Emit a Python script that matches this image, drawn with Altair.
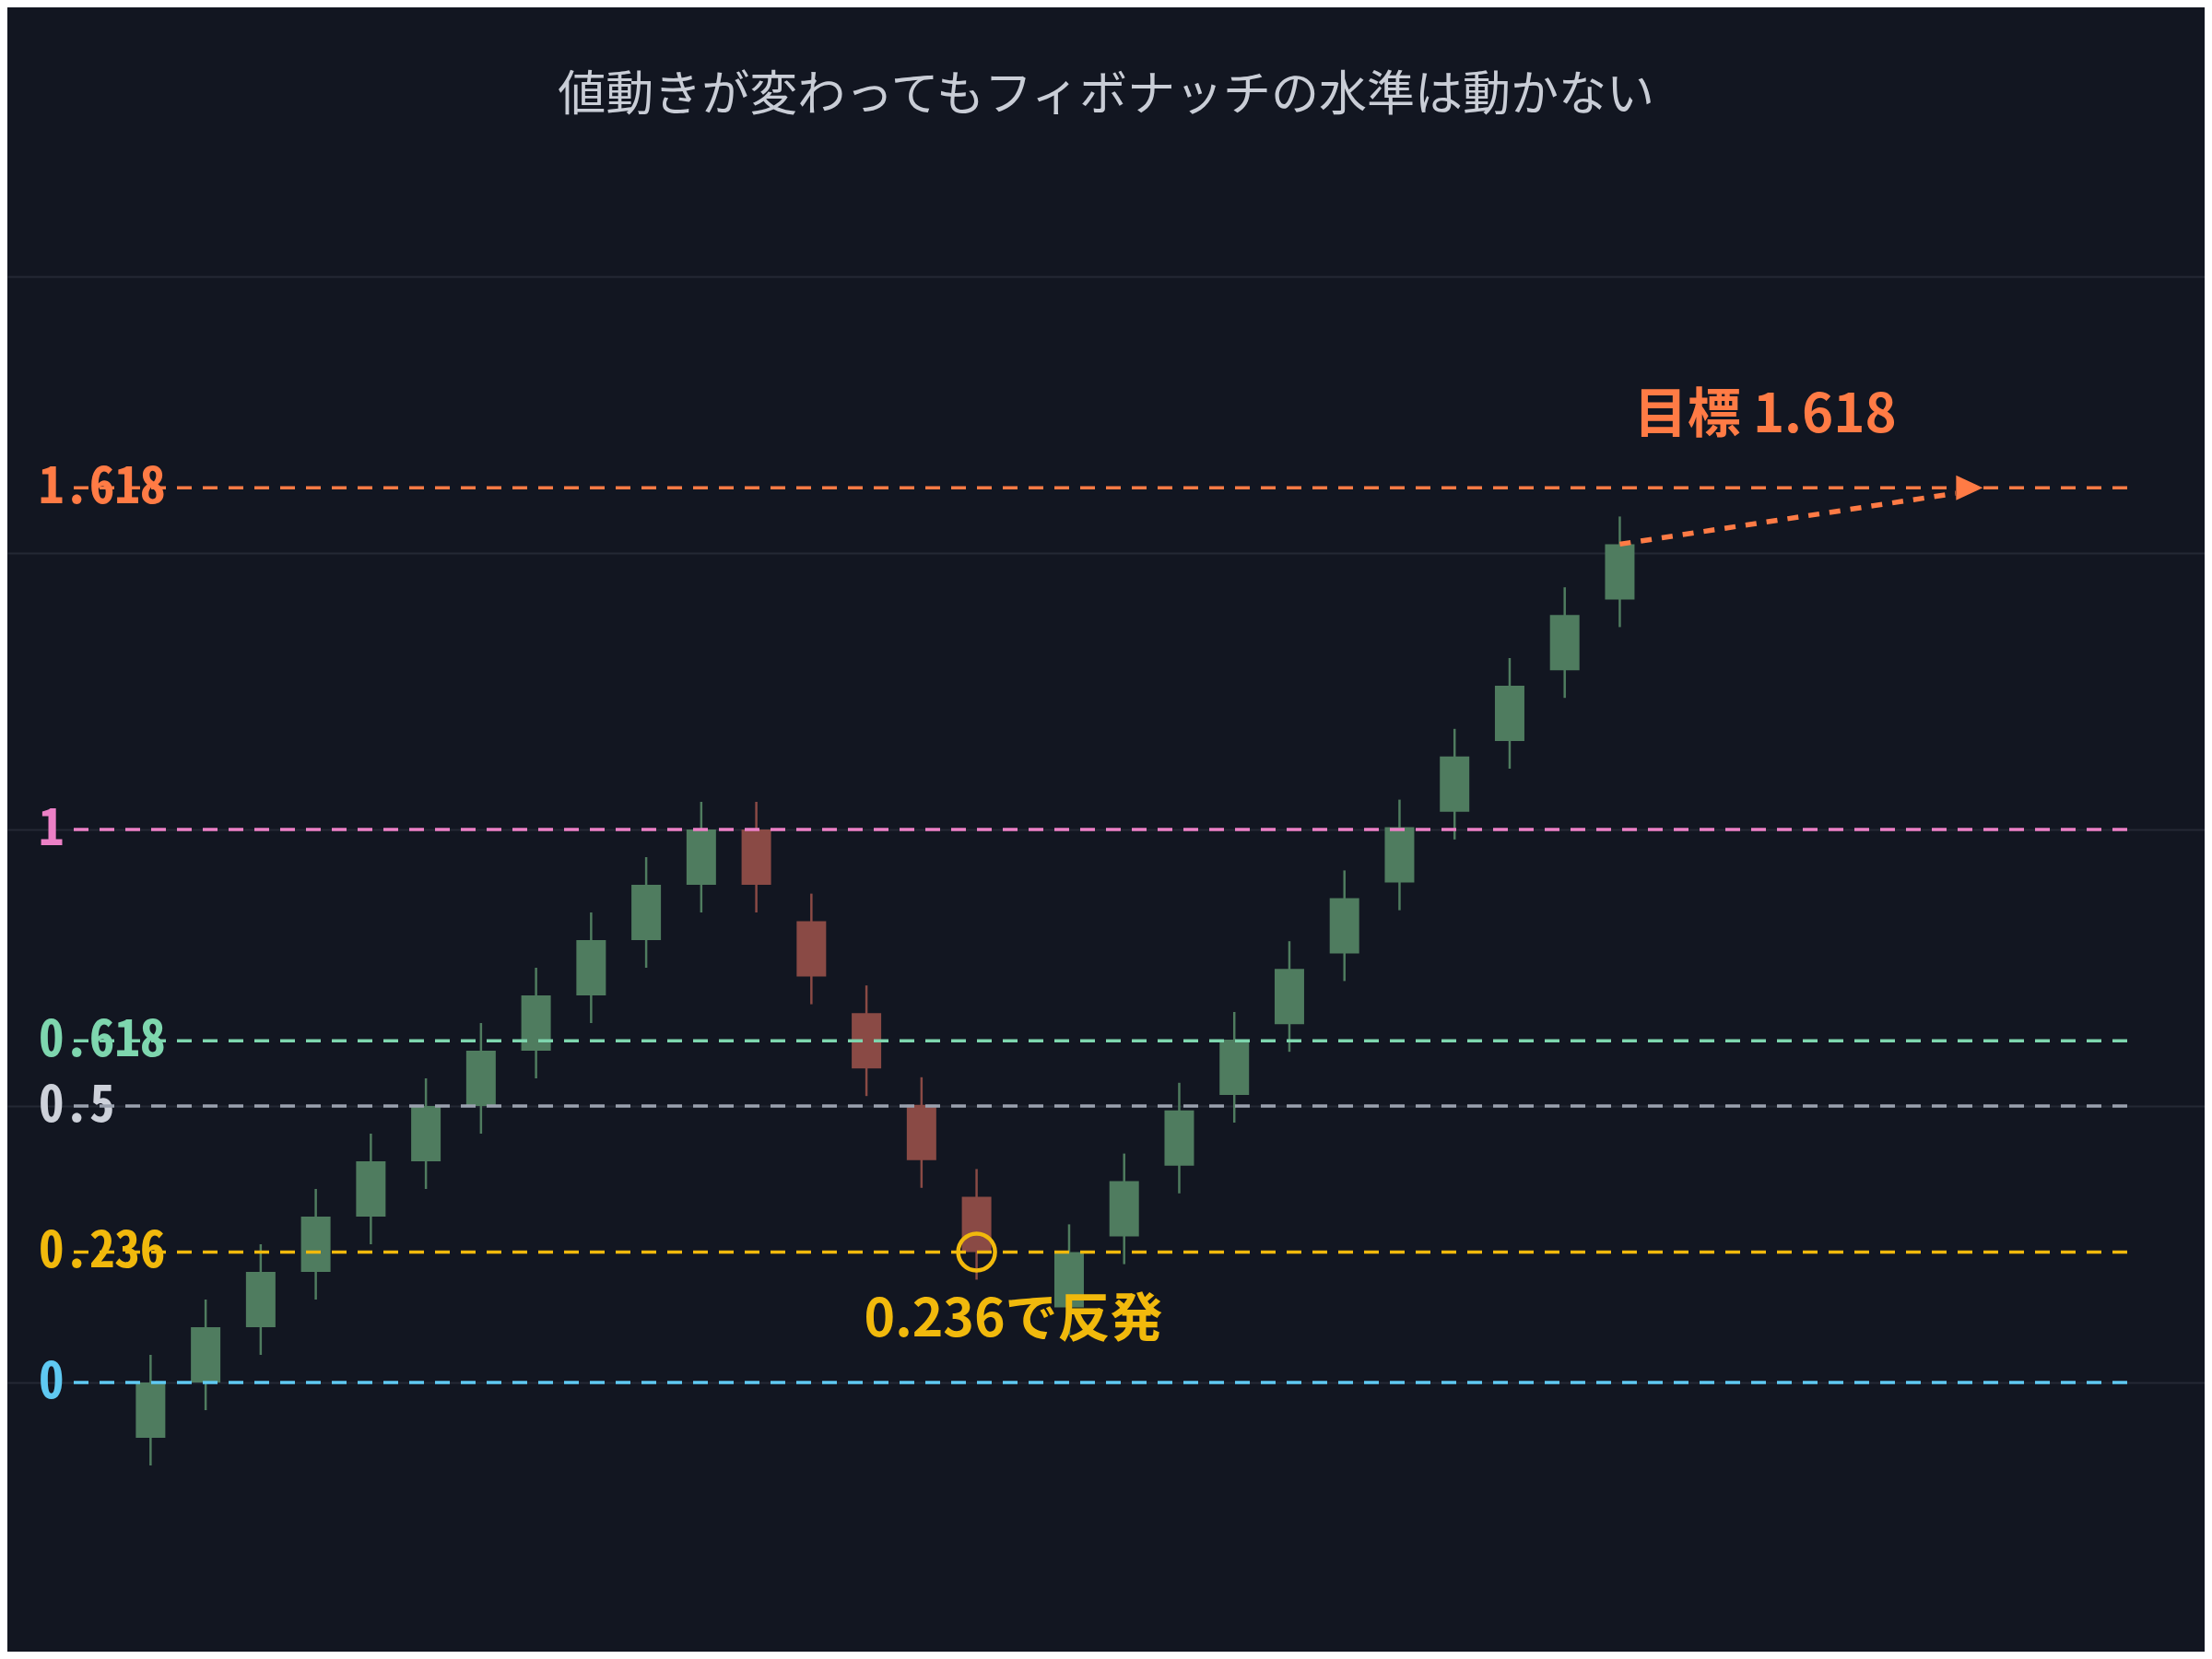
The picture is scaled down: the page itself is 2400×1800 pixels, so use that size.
import altair as alt
import pandas as pd

# ---------------- data ----------------
TITLE = "値動きが変わってもフィボナッチの水準は動かない"

CANDLE_X = [0, 1, 2, 3, 4, 5, 6, 7, 8, 9, 10, 11, 12, 13, 14, 15,
            16.68, 17.68, 18.68, 19.68, 20.68, 21.68, 22.68, 23.68, 24.68, 25.68, 26.68]
OPEN = [-0.10, 0.00, 0.10, 0.20, 0.30, 0.40, 0.50, 0.60, 0.70, 0.80, 0.90, 1.00,
        0.834, 0.668, 0.502, 0.336, 0.136, 0.264, 0.392, 0.520, 0.648, 0.776,
        0.904, 1.032, 1.160, 1.288, 1.416]
CLOSE = [0.00, 0.10, 0.20, 0.30, 0.40, 0.50, 0.60, 0.70, 0.80, 0.90, 1.00, 0.90,
         0.734, 0.568, 0.402, 0.236, 0.236, 0.364, 0.492, 0.620, 0.748, 0.876,
         1.004, 1.132, 1.260, 1.388, 1.516]
HIGH = [0.05, 0.15, 0.25, 0.35, 0.45, 0.55, 0.65, 0.75, 0.85, 0.95, 1.05, 1.05,
        0.884, 0.718, 0.552, 0.386, 0.286, 0.414, 0.542, 0.670, 0.798, 0.926,
        1.054, 1.182, 1.310, 1.438, 1.566]
LOW = [-0.15, -0.05, 0.05, 0.15, 0.25, 0.35, 0.45, 0.55, 0.65, 0.75, 0.85, 0.85,
       0.684, 0.518, 0.352, 0.186, 0.086, 0.214, 0.342, 0.470, 0.598, 0.726,
       0.854, 0.982, 1.110, 1.238, 1.366]

LEVELS = [1.618, 1.0, 0.618, 0.5, 0.236, 0.0]
LEVEL_LABELS = ["1.618", "1", "0.618", "0.5", "0.236", "0"]
LEVEL_TEXT_COLORS = ["#FF7B45", "#EC80C6", "#7ED6AE", "#CDD1DA", "#F1B90C", "#5FC9F2"]
LEVEL_LINE_COLORS = ["#FF7B45", "#EC80C6", "#7ED6AE", "#9AA1AE", "#F1B90C", "#5FC9F2"]

BOUNCE_X = [15]
BOUNCE_Y = [0.236]
BOUNCE_TEXT = ["0.236で反発"]

ARROW_X = [26.68, 32.78]
ARROW_Y = [1.516, 1.608]
HEAD_X = [33.03]
HEAD_Y = [1.618]
TARGET_TEXT = ["目標 1.618"]
TARGET_X = [29.32]
TARGET_Y = [1.746]

# ---------------- style ----------------
BG = "#121621"
GRID = "#242935"
UP = "#4F7C5F"
DOWN = "#8A4A45"
W, H = 2384, 1784
XDOM = [-2.5167, 37.2167]
YDOM = [-0.48667, 2.48667]
JP = "Noto Sans CJK JP"

xs = alt.Scale(domain=XDOM, nice=False, zero=False)
ys = alt.Scale(domain=YDOM, nice=False, zero=False)
yaxis = alt.Axis(grid=True, values=[0, 0.5, 1, 1.5, 2], labels=False, ticks=False,
                 domain=False, title=None, gridColor=GRID, gridWidth=2)


def X(f):
    return alt.X(f, type="quantitative", scale=xs, axis=None)


def Y(f):
    return alt.Y(f, type="quantitative", scale=ys, axis=yaxis)


candles = pd.DataFrame({"x": CANDLE_X, "open": OPEN, "close": CLOSE,
                        "high": HIGH, "low": LOW})
candles["dir"] = ["up" if c >= o else "down" for o, c in zip(OPEN, CLOSE)]
dir_color = alt.Color("dir:N", scale=alt.Scale(domain=["up", "down"], range=[UP, DOWN]),
                      legend=None)

wicks = alt.Chart(candles).mark_rule(strokeWidth=2.5).encode(
    x=X("x"), y=Y("low"), y2="high", color=dir_color)
bodies = alt.Chart(candles).mark_bar(size=32).encode(
    x=X("x"), y=Y("open"), y2="close", color=dir_color)
candle_layer = alt.layer(wicks, bodies)

levels = pd.DataFrame({"level": LEVELS, "label": LEVEL_LABELS})
level_labels = alt.Chart(levels).mark_text(
    align="left", baseline="middle", font="Noto Sans Mono CJK JP, DejaVu Sans Mono",
    fontSize=55, fontWeight="bold").encode(
    x=alt.value(34), y=Y("level"), text="label:N",
    color=alt.Color("label:N", scale=alt.Scale(domain=LEVEL_LABELS, range=LEVEL_TEXT_COLORS),
                    legend=None))
level_lines = alt.Chart(levels).mark_rule(strokeWidth=3.5, strokeDash=[16, 12]).encode(
    x=alt.value(72), x2=alt.value(2300), y=Y("level"),
    color=alt.Color("label:N", scale=alt.Scale(domain=LEVEL_LABELS, range=LEVEL_LINE_COLORS),
                    legend=None))

bounce = pd.DataFrame({"x": BOUNCE_X, "y": BOUNCE_Y, "t": BOUNCE_TEXT})
ring = alt.Chart(bounce).mark_point(shape="circle", size=1600, strokeWidth=4.5,
                                    color="#F1B90C", filled=False, opacity=1).encode(
    x=X("x"), y=Y("y"))
bounce_text = alt.Chart(bounce).mark_text(
    font=JP, fontSize=57, fontWeight="bold", color="#F1B90C", align="center",
    baseline="middle", dx=40, dy=75).encode(x=X("x"), y=Y("y"), text="t:N")

arrow = pd.DataFrame({"x": ARROW_X, "y": ARROW_Y})
arrow_line = alt.Chart(arrow).mark_line(color="#FF7B45", strokeWidth=5.5,
                                        strokeDash=[12, 11]).encode(
    x=X("x"), y=Y("y"))
head = pd.DataFrame({"x": HEAD_X, "y": HEAD_Y})
arrow_head = alt.Chart(head).mark_point(shape="M-1,-0.93L1,0L-1,0.93Z", size=841,
                                        filled=True, color="#FF7B45", opacity=1,
                                        strokeWidth=0).encode(
    x=X("x"), y=Y("y"))
target = pd.DataFrame({"x": TARGET_X, "y": TARGET_Y, "t": TARGET_TEXT})
target_text = alt.Chart(target).mark_text(
    font=JP, fontSize=58, fontWeight="bold", color="#FF7B45", align="center",
    baseline="middle").encode(x=X("x"), y=Y("y"), text="t:N")

title_df = pd.DataFrame({"t": [TITLE]})
title = alt.Chart(title_df).mark_text(
    font=JP, fontSize=52, fontWeight="normal", color="#C9CDD6", align="center",
    baseline="middle").encode(x=alt.value(1192), y=alt.value(96), text="t:N")

chart = alt.layer(
    candle_layer, level_labels, level_lines, ring, bounce_text,
    arrow_line, arrow_head, target_text, title
).resolve_scale(color="independent").properties(
    width=W, height=H, autosize=alt.AutoSizeParams(type="none"), padding=0,
    background=BG
).configure_view(stroke=None)

chart.save("out.html", embed_options={"renderer": "svg", "actions": False})
